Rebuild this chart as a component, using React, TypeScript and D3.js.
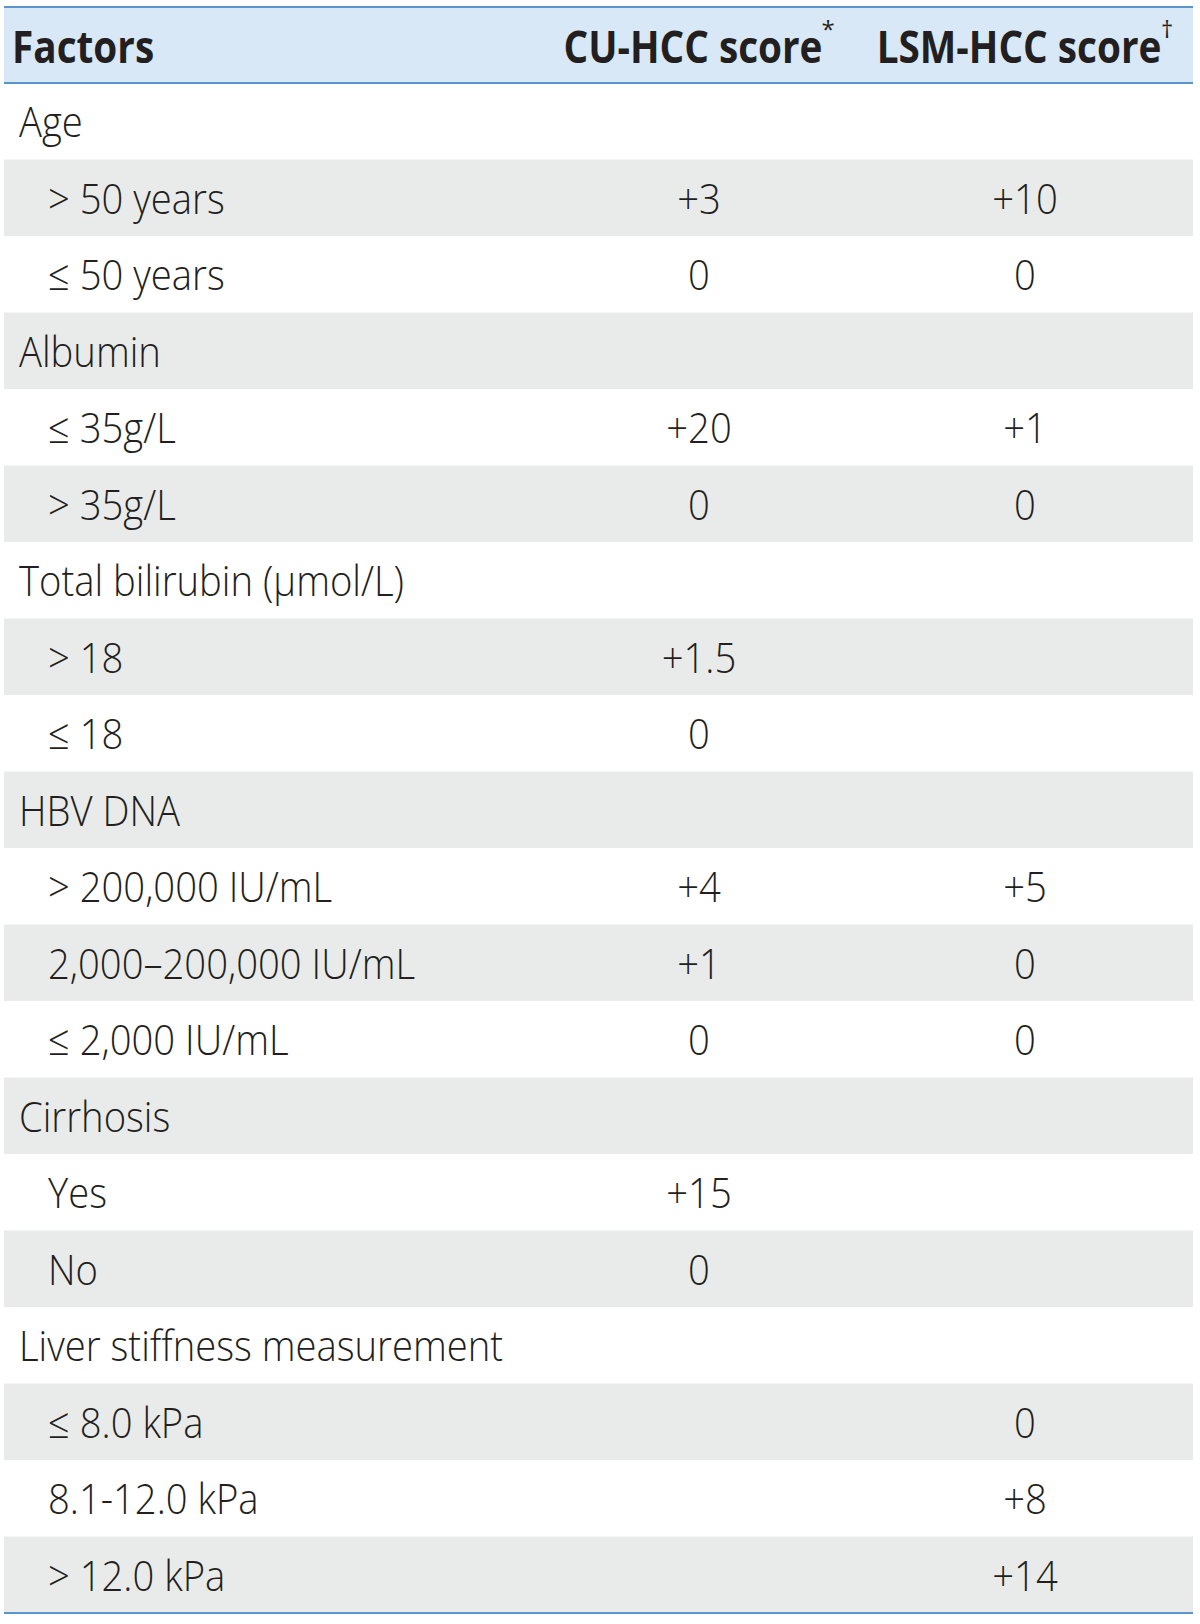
import React from "react";
import * as d3 from "d3";

const headers = ["Factors", "CU-HCC score", "LSM-HCC score"];
const headerMarks = ["", "*", "†"];

const rowLabels = [
  "Age", "> 50 years", "≤ 50 years",
  "Albumin", "≤ 35g/L", "> 35g/L",
  "Total bilirubin (μmol/L)", "> 18", "≤ 18",
  "HBV DNA", "> 200,000 IU/mL", "2,000–200,000 IU/mL", "≤ 2,000 IU/mL",
  "Cirrhosis", "Yes", "No",
  "Liver stiffness measurement", "≤ 8.0 kPa", "8.1-12.0 kPa", "> 12.0 kPa",
];
const rowIsCategory = [
  true, false, false,
  true, false, false,
  true, false, false,
  true, false, false, false,
  true, false, false,
  true, false, false, false,
];
const cuValues = [
  "", "+3", "0",
  "", "+20", "0",
  "", "+1.5", "0",
  "", "+4", "+1", "0",
  "", "+15", "0",
  "", "", "", "",
];
const lsmValues = [
  "", "+10", "0",
  "", "+1", "0",
  "", "", "",
  "", "+5", "0", "0",
  "", "", "",
  "", "0", "+8", "+14",
];

const W = 1200;
const H = 1624;
const left = 4;
const right = 1193;
const topLine = 7;
const headBottom = 83;
const tableBottom = 1613;

const textColor = "#231f20";
const lineColor = "#5b95cb";
const headFill = "#d8e8f6";
const stripeFill = "#e9ebeb";
const bodyFont = "'Open Sans', 'Noto Sans', sans-serif";
const bodySize = 42;
const bodyScaleX = 0.91;
const headSize = 44;
const headScaleX = 0.88;

export default function App() {
  const y = d3
    .scaleBand<number>()
    .domain(d3.range(rowLabels.length))
    .range([headBottom, tableBottom])
    .paddingInner(0)
    .paddingOuter(0);

  const colX = d3
    .scaleOrdinal<string, number>()
    .domain(["cat", "sub", "cu", "lsm"])
    .range([19, 48, 699, 1025]);

  const headX = d3
    .scaleOrdinal<string, number>()
    .domain(headers)
    .range([12, 693, 1019]);

  const baseOffset = 54;

  const scaledText = (
    key: string,
    x: number,
    yy: number,
    txt: string,
    anchor: string,
    size: number,
    weight: number,
    sx: number
  ) => (
    <text
      key={key}
      transform={`translate(${x},${yy}) scale(${sx},1)`}
      textAnchor={anchor}
      fontFamily={bodyFont}
      fontSize={size}
      fontWeight={weight}
      fill={textColor}
    >
      {txt}
    </text>
  );

  return (
    <svg
      width={W}
      height={H}
      viewBox={`0 0 ${W} ${H}`}
      style={{ position: "absolute", left: 0, top: 0, background: "#fff" }}
    >
      <rect x={left} y={topLine} width={right - left} height={headBottom - topLine} fill={headFill} />
      {rowLabels.map((_, i) =>
        i % 2 === 1 ? (
          <rect key={"s" + i} x={left} y={y(i)!} width={right - left} height={y.bandwidth()} fill={stripeFill} />
        ) : null
      )}
      <line x1={left} x2={right} y1={topLine} y2={topLine} stroke={lineColor} strokeWidth={2.2} />
      <line x1={left} x2={right} y1={headBottom} y2={headBottom} stroke={lineColor} strokeWidth={2.2} />
      <line x1={left} x2={right} y1={tableBottom} y2={tableBottom} stroke={lineColor} strokeWidth={2.2} />

      {headers.map((h, j) => {
        const x = headX(h);
        const anchor = j === 0 ? "start" : "middle";
        return (
          <g key={"h" + j}>
            {scaledText("ht" + j, x, 63, h, anchor, headSize, 700, headScaleX)}
            {headerMarks[j] ? (
              <text
                x={j === 1 ? 828 : 1167}
                y={38}
                textAnchor="middle"
                fontFamily={bodyFont}
                fontSize={24}
                fontWeight={400}
                fill={textColor}
              >
                {headerMarks[j]}
              </text>
            ) : null}
          </g>
        );
      })}

      {rowLabels.map((lab, i) => {
        const yy = y(i)! + baseOffset;
        return (
          <g key={"r" + i}>
            {scaledText("l" + i, colX(rowIsCategory[i] ? "cat" : "sub"), yy, lab, "start", bodySize, 300, bodyScaleX)}
            {cuValues[i] ? scaledText("c" + i, colX("cu"), yy, cuValues[i], "middle", bodySize, 300, bodyScaleX) : null}
            {lsmValues[i] ? scaledText("m" + i, colX("lsm"), yy, lsmValues[i], "middle", bodySize, 300, bodyScaleX) : null}
          </g>
        );
      })}
    </svg>
  );
}
